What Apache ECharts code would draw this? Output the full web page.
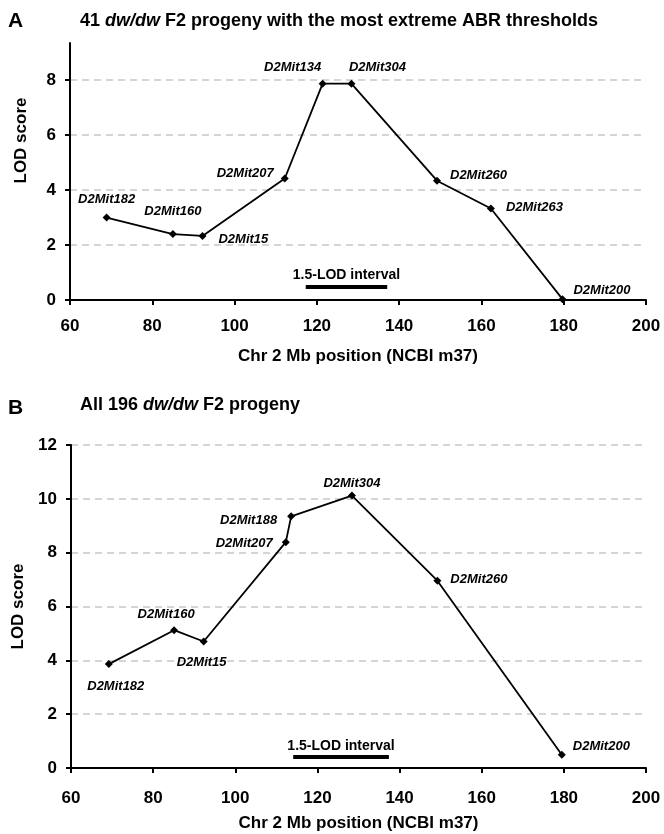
<!DOCTYPE html>
<html>
<head>
<meta charset="utf-8">
<script src="https://cdn.jsdelivr.net/npm/echarts@6/dist/echarts.min.js"></script>
<style>
  html, body { margin: 0; padding: 0; background: #fff; }
  #chart { width: 664px; height: 834px; }
</style>
</head>
<body>
<div id="chart"></div>
<script>
// Panel A: 41 extreme progeny
const markersA = ['D2Mit182', 'D2Mit160', 'D2Mit15', 'D2Mit207', 'D2Mit134', 'D2Mit304', 'D2Mit260', 'D2Mit263', 'D2Mit200']
const positionsA = [68.9, 85.0, 92.2, 112.2, 121.4, 128.4, 149.2, 162.3, 179.7]
const lodA = [3.0, 2.4, 2.33, 4.42, 7.87, 7.87, 4.34, 3.33, 0.03]
const intervalA = [117.3, 137.1]
const intervalLodA = 0.47
const yTicksA = [0, 2, 4, 6, 8]

// Panel B: all 196 progeny
const markersB = ['D2Mit182', 'D2Mit160', 'D2Mit15', 'D2Mit207', 'D2Mit188', 'D2Mit304', 'D2Mit260', 'D2Mit200']
const positionsB = [69.2, 85.1, 92.3, 112.3, 113.6, 128.4, 149.2, 179.5]
const lodB = [3.86, 5.12, 4.70, 8.39, 9.35, 10.12, 6.96, 0.49]
const intervalB = [114.1, 137.4]
const intervalLodB = 0.43

const FONT = '"Liberation Sans", Arial, sans-serif'

// where each marker name sits next to its point
const labelA = {
    D2Mit182: { position: 'top', distance: 8 },
    D2Mit160: { position: 'top', distance: 12 },
    D2Mit15: { position: 'right', distance: 12, offset: [0, 3] },
    D2Mit207: { position: 'left', distance: 7, offset: [0, -5] },
    D2Mit134: { position: 'top', distance: 6, offset: [-30, 0] },
    D2Mit304: { position: 'top', distance: 6, offset: [26, 0] },
    D2Mit260: { position: 'right', distance: 9, offset: [0, -5] },
    D2Mit263: { position: 'right', distance: 11, offset: [0, -1] },
    D2Mit200: { position: 'right', distance: 7, offset: [0, -9] }
}
const labelB = {
    D2Mit182: { position: 'bottom', distance: 12, offset: [7, 0] },
    D2Mit160: { position: 'top', distance: 5, offset: [-8, 0] },
    D2Mit15: { position: 'bottom', distance: 10, offset: [-2, 0] },
    D2Mit207: { position: 'left', distance: 9, offset: [0, 1] },
    D2Mit188: { position: 'left', distance: 10, offset: [0, 4] },
    D2Mit304: { position: 'top', distance: 2 },
    D2Mit260: { position: 'right', distance: 9, offset: [0, -1] },
    D2Mit200: { position: 'right', distance: 7, offset: [0, -8] }
}

function buildData(markers, pos, lod, labels) {
    return markers.map((name, i) => ({
        name: name,
        value: [pos[i], lod[i]],
        label: labels[name]
    }))
}

const xAxisBase = (gridIndex, margin) => ({
    type: 'value',
    gridIndex: gridIndex,
    min: 60,
    max: 200,
    interval: 20,
    name: 'Chr 2 Mb position (NCBI m37)',
    nameLocation: 'middle',
    nameGap: gridIndex === 0 ? 48 : 47,
    nameTextStyle: { fontSize: 17, fontWeight: 'bold', color: '#000', fontFamily: FONT },
    axisLine: { show: true, onZero: false, lineStyle: { color: '#000', width: 2 } },
    axisTick: { show: true, length: 5, lineStyle: { color: '#000', width: 2 } },
    axisLabel: { fontSize: 17, fontWeight: 'bold', color: '#000', margin: margin, fontFamily: FONT },
    splitLine: { show: false }
})

const yAxisBase = (gridIndex) => ({
    type: 'value',
    gridIndex: gridIndex,
    min: 0,
    interval: 2,
    name: 'LOD score',
    nameLocation: 'middle',
    nameGap: 40,
    nameTextStyle: { fontSize: 17, fontWeight: 'bold', color: '#000', fontFamily: FONT },
    axisLine: { show: true, lineStyle: { color: '#000', width: 2 } },
    axisTick: { show: true, length: 5, lineStyle: { color: '#000', width: 2 } },
    axisLabel: { fontSize: 17, fontWeight: 'bold', color: '#000', margin: 14, fontFamily: FONT },
    splitLine: { show: true, lineStyle: { color: '#c8c8c8', width: 1.5, type: [7, 5] } }
})

const markerLabel = {
    show: true,
    formatter: '{b}',
    color: '#000',
    fontSize: 13,
    fontWeight: 'bold',
    fontStyle: 'italic',
    fontFamily: FONT
}

function intervalLine(range, lod, dist) {
    return {
        silent: true,
        symbol: ['none', 'none'],
        lineStyle: { color: '#000', width: 4, type: 'solid' },
        label: {
            show: true,
            position: 'middle',
            formatter: '1.5-LOD interval',
            color: '#000',
            fontSize: 14,
            fontWeight: 'bold',
            fontFamily: FONT,
            distance: dist
        },
        emphasis: { disabled: true },
        data: [[{ coord: [range[0], lod] }, { coord: [range[1], lod] }]]
    }
}

const chart = echarts.init(document.getElementById('chart'))

const yA = yAxisBase(0)
yA.max = 9.35
yA.axisLabel.customValues = yTicksA
yA.axisTick.customValues = yTicksA
yA.nameTextStyle.padding = [0, 0, 0, 62]

const yB = yAxisBase(1)
yB.max = 12

chart.setOption({
    animation: false,
    backgroundColor: '#fff',
    textStyle: { fontFamily: FONT },
    title: [
        { text: 'A', left: 8, top: 11, padding: 0, textStyle: { fontSize: 21, fontWeight: 'bold', color: '#000', fontFamily: FONT } },
        {
            text: '{n|41 }{i|dw/dw}{n| F2 progeny with the most extreme ABR thresholds}',
            left: 80, top: 12, padding: 0,
            textStyle: {
                rich: {
                    n: { fontSize: 18, fontWeight: 'bold', color: '#000', fontFamily: FONT },
                    i: { fontSize: 18, fontWeight: 'bold', fontStyle: 'italic', color: '#000', fontFamily: FONT }
                }
            }
        },
        { text: 'B', left: 8, top: 398, padding: 0, textStyle: { fontSize: 21, fontWeight: 'bold', color: '#000', fontFamily: FONT } },
        {
            text: '{n|All 196 }{i|dw/dw}{n| F2 progeny}',
            left: 80, top: 396, padding: 0,
            textStyle: {
                rich: {
                    n: { fontSize: 18, fontWeight: 'bold', color: '#000', fontFamily: FONT },
                    i: { fontSize: 18, fontWeight: 'bold', fontStyle: 'italic', color: '#000', fontFamily: FONT }
                }
            }
        }
    ],
    grid: [
        { left: 70, right: 18, top: 43, height: 257, containLabel: false },
        { left: 71, right: 18, top: 445, height: 323, containLabel: false }
    ],
    xAxis: [xAxisBase(0, 18), xAxisBase(1, 22)],
    yAxis: [yA, yB],
    series: [
        {
            type: 'line',
            xAxisIndex: 0,
            yAxisIndex: 0,
            data: buildData(markersA, positionsA, lodA, labelA),
            symbol: 'diamond',
            symbolSize: 8,
            itemStyle: { color: '#000' },
            lineStyle: { color: '#000', width: 1.8 },
            label: markerLabel,
            markLine: intervalLine(intervalA, intervalLodA, 5)
        },
        {
            type: 'line',
            xAxisIndex: 1,
            yAxisIndex: 1,
            data: buildData(markersB, positionsB, lodB, labelB),
            symbol: 'diamond',
            symbolSize: 8,
            itemStyle: { color: '#000' },
            lineStyle: { color: '#000', width: 1.8 },
            label: markerLabel,
            markLine: intervalLine(intervalB, intervalLodB, 3)
        }
    ]
})
</script>
</body>
</html>
